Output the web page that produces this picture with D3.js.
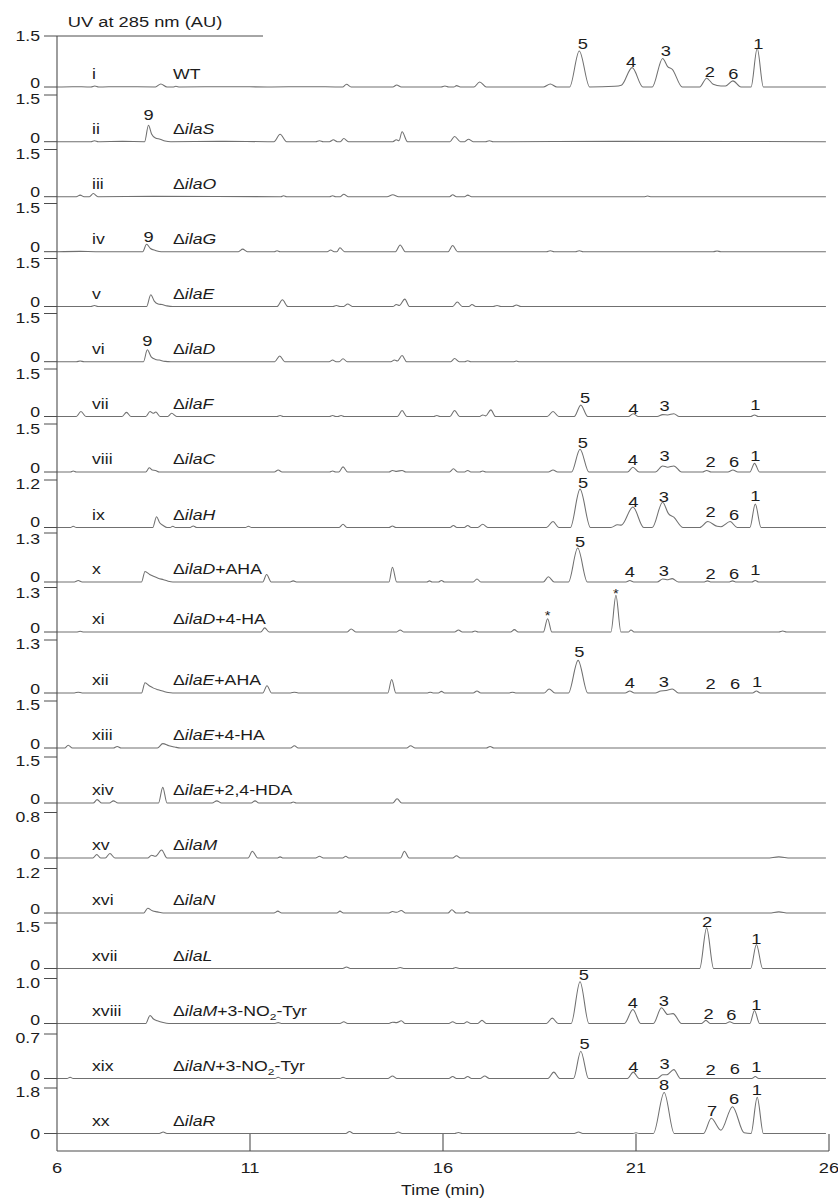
<!DOCTYPE html>
<html><head><meta charset="utf-8">
<script src="https://cdn.jsdelivr.net/npm/d3@7"></script>
<style>body{margin:0;background:#fff}svg{display:block}</style>
</head><body><svg id="c" width="838" height="1202"></svg>
<script>
// ---------------- DATA ----------------
const romans = ["i","ii","iii","iv","v","vi","vii","viii","ix","x","xi","xii","xiii","xiv","xv","xvi","xvii","xviii","xix","xx"];
const genes = ["WT","ilaS","ilaO","ilaG","ilaE","ilaD","ilaF","ilaC","ilaH","ilaD","ilaD","ilaE","ilaE","ilaE","ilaM","ilaN","ilaL","ilaM","ilaN","ilaR"];
const supplements = ["","","","","","","","","","+AHA","+4-HA","+AHA","+4-HA","+2,4-HDA","","","","+3-NO2-Tyr","+3-NO2-Tyr",""];
const yMax = [1.5,1.5,1.5,1.5,1.5,1.5,1.5,1.5,1.2,1.3,1.3,1.3,1.5,1.5,0.8,1.2,1.5,1.0,0.7,1.8];
const timeTicks = [6,11,16,21,26];

// traces: [time (min), absorbance (AU)]
const trace01 = [[6,0],[6.4,0.01],[6.88,0],[6.98,0.03],[7.08,0],[7.6,0.01],[8.55,0],[8.69,0.09],[8.85,0],[9.0,0],[9.08,0.02],[9.18,0],[10.5,0.01],[11.5,0],[12.5,0.01],[13.4,0],[13.5,0.08],[13.62,0],[14.7,0],[14.8,0.06],[14.92,0],[15.95,0],[16.05,0.03],[16.15,0],[16.28,0],[16.35,0.04],[16.45,0],[16.8,0],[16.95,0.15],[17.12,0],[18.6,0],[18.78,0.09],[18.95,0],[19.28,0],[19.53,1.06],[19.8,0],[20.45,0.02],[20.62,0.05],[20.9,0.57],[21.18,0],[21.42,0],[21.69,0.84],[21.82,0.6],[21.94,0.52],[22.2,0],[22.65,0],[22.83,0.26],[23.0,0.08],[23.2,0.03],[23.32,0.03],[23.51,0.18],[23.72,0],[23.98,0],[24.14,1.14],[24.3,0],[25.92,0]];
const trace02 = [[6,0],[6.88,0],[6.97,0.03],[7.07,0],[7.7,0.01],[8.27,0],[8.37,0.53],[8.45,0.25],[8.55,0.12],[8.67,0.08],[8.8,0.02],[8.95,0],[10.2,0.01],[11.62,0],[11.78,0.24],[11.95,0],[12.7,0],[12.8,0.03],[12.9,0],[13.06,0],[13.16,0.06],[13.26,0],[13.34,0],[13.43,0.1],[13.55,0],[14.7,0],[14.79,0.06],[14.86,0.03],[14.94,0.32],[15.08,0],[16.18,0],[16.3,0.17],[16.45,0],[16.56,0],[16.66,0.08],[16.78,0],[17.1,0],[17.2,0.03],[17.3,0],[20.5,0.01],[25.92,0]];
const trace03 = [[6,0],[6.5,0],[6.6,0.05],[6.7,0],[6.84,0],[6.94,0.1],[7.06,0],[8.5,0.01],[11.8,0],[11.87,0.03],[11.95,0],[13.06,0],[13.14,0.03],[13.22,0],[13.34,0],[13.43,0.08],[13.54,0],[14.55,0],[14.7,0.06],[14.85,0],[16.17,0],[16.25,0.06],[16.35,0],[16.56,0],[16.64,0.05],[16.74,0],[21.2,0],[21.3,0.02],[21.4,0],[25.92,0]];
const trace04 = [[6,0],[6.6,0.01],[7.0,0],[8.22,0],[8.32,0.23],[8.42,0.1],[8.55,0.04],[8.7,0],[10.7,0],[10.81,0.08],[10.93,0],[11.63,0],[11.7,0.03],[11.78,0],[13.0,0],[13.09,0.05],[13.18,0],[13.25,0],[13.33,0.12],[13.45,0],[14.77,0],[14.89,0.21],[15.02,0],[16.13,0],[16.25,0.19],[16.38,0],[18.68,0],[18.78,0.03],[18.88,0],[19.43,0],[19.53,0.03],[19.63,0],[23.0,0],[23.1,0.02],[23.2,0],[25.92,0]];
const trace05 = [[6,0],[6.88,0],[6.97,0.03],[7.06,0],[8.32,0],[8.43,0.37],[8.52,0.17],[8.62,0.08],[8.72,0.06],[8.85,0.02],[9.0,0],[11.7,0],[11.84,0.21],[11.98,0],[13.15,0],[13.24,0.03],[13.33,0],[13.43,0],[13.53,0.08],[13.65,0],[14.7,0],[14.79,0.06],[14.87,0.03],[15.01,0.23],[15.13,0],[16.25,0],[16.37,0.14],[16.5,0],[16.67,0],[16.75,0.06],[16.85,0],[17.3,0],[17.4,0.03],[17.5,0],[17.8,0],[17.9,0.05],[18.02,0],[25.92,0]];
const trace06 = [[6,0],[6.5,0],[6.6,0.02],[6.7,0],[8.24,0],[8.34,0.37],[8.44,0.15],[8.55,0.07],[8.65,0.05],[8.8,0.01],[8.95,0],[11.64,0],[11.77,0.18],[11.9,0],[13.05,0],[13.14,0.05],[13.23,0],[13.31,0],[13.41,0.09],[13.52,0],[14.65,0],[14.74,0.05],[14.82,0.02],[14.94,0.19],[15.06,0],[16.2,0],[16.3,0.1],[16.42,0],[16.56,0],[16.64,0.03],[16.72,0],[17.82,0],[17.9,0.02],[17.98,0],[25.92,0]];
const trace07 = [[6,0],[6.5,0],[6.62,0.16],[6.75,0],[7.68,0],[7.8,0.13],[7.92,0],[8.3,0],[8.41,0.16],[8.49,0.1],[8.56,0.14],[8.67,0],[8.87,0],[8.97,0.1],[9.1,0],[11.7,0],[11.78,0.03],[11.86,0],[13.06,0],[13.14,0.03],[13.22,0],[13.28,0],[13.36,0.03],[13.44,0],[14.82,0],[14.94,0.19],[15.06,0],[15.76,0],[15.84,0.03],[15.92,0],[16.18,0],[16.3,0.19],[16.43,0],[16.95,0],[17.03,0.05],[17.11,0.02],[17.24,0.21],[17.36,0],[18.7,0],[18.85,0.16],[19.0,0],[19.4,0],[19.57,0.36],[19.75,0],[20.8,0],[20.93,0.09],[21.06,0],[21.55,0],[21.69,0.06],[21.82,0.05],[21.98,0.09],[22.12,0],[23.97,0],[24.07,0.05],[24.17,0],[25.92,0]];
const trace08 = [[6,0],[6.35,0],[6.42,0.03],[6.5,0],[8.3,0],[8.39,0.13],[8.47,0.06],[8.55,0.05],[8.65,0],[11.63,0],[11.73,0.06],[11.83,0],[13.06,0],[13.14,0.03],[13.22,0],[13.3,0],[13.41,0.16],[13.53,0],[14.6,0],[14.69,0.05],[14.8,0.02],[14.94,0.05],[15.04,0],[16.17,0],[16.27,0.1],[16.38,0],[16.56,0],[16.64,0.05],[16.72,0],[16.95,0],[17.03,0.03],[17.11,0],[18.73,0],[18.85,0.06],[18.97,0],[19.33,0],[19.55,0.71],[19.78,0],[20.78,0],[20.92,0.15],[21.08,0],[21.5,0],[21.69,0.19],[21.82,0.15],[21.98,0.19],[22.18,0],[22.72,0],[22.83,0.05],[22.95,0],[23.38,0],[23.51,0.06],[23.64,0],[23.95,0],[24.07,0.27],[24.2,0],[25.92,0]];
const trace09 = [[6,0],[6.35,0],[6.42,0.03],[6.5,0],[8.48,0],[8.58,0.27],[8.66,0.12],[8.75,0.05],[8.85,0],[8.93,0],[9.0,0.03],[9.07,0],[9.45,0],[9.53,0.04],[9.62,0],[10.88,0],[10.96,0.03],[11.04,0],[13.31,0],[13.41,0.08],[13.51,0],[14.6,0],[14.69,0.04],[14.78,0],[16.18,0],[16.27,0.05],[16.36,0],[16.55,0],[16.64,0.05],[16.73,0],[16.9,0],[17.03,0.08],[17.16,0],[18.68,0],[18.85,0.15],[19.0,0],[19.3,0],[19.55,0.97],[19.82,0],[20.35,0],[20.52,0.07],[20.62,0.06],[20.92,0.52],[21.2,0],[21.42,0],[21.69,0.64],[21.84,0.35],[21.98,0.26],[22.22,0],[22.65,0],[22.86,0.15],[23.1,0.03],[23.2,0.02],[23.44,0.15],[23.62,0],[23.95,0],[24.09,0.59],[24.24,0],[25.92,0]];
const trace10 = [[6,0],[6.45,0],[6.55,0.04],[6.65,0],[8.19,0],[8.28,0.28],[8.4,0.2],[8.5,0.15],[8.62,0.1],[8.76,0.06],[8.88,0.02],[9.0,0],[11.33,0],[11.43,0.2],[11.55,0],[12.02,0],[12.12,0.03],[12.22,0],[14.6,0],[14.69,0.39],[14.8,0],[15.58,0],[15.65,0.03],[15.72,0],[15.88,0],[15.96,0.04],[16.04,0],[16.78,0],[16.88,0.08],[16.98,0],[18.6,0],[18.73,0.14],[18.88,0],[19.25,0],[19.49,0.9],[19.74,0],[20.74,0],[20.84,0.04],[20.94,0],[21.55,0],[21.69,0.08],[21.8,0.06],[21.94,0.09],[22.1,0],[22.75,0],[22.85,0.03],[22.95,0],[23.4,0],[23.5,0.03],[23.6,0],[24.0,0],[24.09,0.04],[24.18,0],[25.92,0]];
const trace11 = [[6,0],[6.5,0],[6.6,0.02],[6.7,0],[11.28,0],[11.38,0.12],[11.5,0],[13.52,0],[13.62,0.09],[13.74,0],[14.8,0],[14.89,0.06],[14.98,0],[16.3,0],[16.4,0.06],[16.5,0],[16.75,0],[16.83,0.03],[16.91,0],[17.75,0],[17.85,0.07],[17.95,0],[18.6,0],[18.71,0.39],[18.82,0],[20.35,0],[20.48,1.07],[20.61,0],[20.8,0],[20.87,0.06],[20.95,0],[24.7,0],[24.8,0.03],[24.9,0],[25.92,0]];
const trace12 = [[6,0],[6.45,0],[6.55,0.02],[6.65,0],[8.19,0],[8.28,0.25],[8.4,0.17],[8.5,0.12],[8.62,0.08],[8.76,0.04],[8.88,0.01],[9.0,0],[11.33,0],[11.44,0.18],[11.56,0],[12.05,0],[12.15,0.02],[12.25,0],[14.57,0],[14.67,0.33],[14.78,0],[15.6,0],[15.67,0.02],[15.74,0],[15.88,0],[15.96,0.04],[16.04,0],[16.78,0],[16.88,0.05],[16.98,0],[17.72,0],[17.8,0.02],[17.88,0],[18.62,0],[18.75,0.1],[18.9,0],[19.25,0],[19.5,0.8],[19.75,0],[20.72,0],[20.84,0.05],[20.96,0],[21.5,0],[21.64,0.05],[21.78,0.06],[21.94,0.1],[22.1,0],[24.02,0],[24.12,0.05],[24.22,0],[25.92,0]];
const trace13 = [[6,0],[6.2,0],[6.29,0.09],[6.4,0],[7.46,0],[7.56,0.05],[7.66,0],[8.6,0],[8.74,0.14],[8.9,0.07],[9.05,0.03],[9.2,0],[12.05,0],[12.15,0.07],[12.25,0],[15.06,0],[15.16,0.07],[15.28,0],[17.12,0],[17.22,0.05],[17.32,0],[25.92,0]];
const trace14 = [[6,0],[6.94,0],[7.04,0.11],[7.16,0],[7.36,0],[7.46,0.07],[7.58,0],[8.63,0],[8.74,0.51],[8.85,0],[10.02,0],[10.14,0.07],[10.26,0],[11.03,0],[11.13,0.07],[11.23,0],[12.05,0],[12.12,0.03],[12.2,0],[14.7,0],[14.81,0.14],[14.93,0],[25.92,0]];
const trace15 = [[6,0],[6.93,0],[7.03,0.06],[7.13,0],[7.25,0],[7.37,0.08],[7.5,0],[8.35,0],[8.45,0.05],[8.55,0.03],[8.71,0.14],[8.85,0],[10.95,0],[11.06,0.12],[11.2,0],[11.7,0],[11.78,0.02],[11.86,0],[12.7,0],[12.8,0.03],[12.9,0],[13.4,0],[13.48,0.03],[13.56,0],[14.9,0],[15.0,0.12],[15.12,0],[16.25,0],[16.35,0.04],[16.45,0],[24.4,0],[24.7,0.02],[25.0,0],[25.92,0]];
const trace16 = [[6,0],[8.25,0],[8.35,0.13],[8.47,0.06],[8.6,0.03],[8.75,0],[11.62,0],[11.72,0.05],[11.82,0],[13.25,0],[13.33,0.05],[13.42,0],[14.6,0],[14.69,0.04],[14.8,0.02],[14.92,0.07],[15.02,0],[16.13,0],[16.23,0.09],[16.34,0],[16.54,0],[16.62,0.04],[16.7,0],[24.45,0],[24.7,0.03],[24.95,0],[25.92,0]];
const trace17 = [[6,0],[13.4,0],[13.5,0.05],[13.6,0],[14.8,0],[14.89,0.03],[14.98,0],[16.25,0],[16.33,0.03],[16.42,0],[22.65,0],[22.83,1.34],[23.01,0],[23.97,0],[24.12,0.79],[24.28,0],[25.92,0]];
const trace18 = [[6,0],[8.3,0],[8.41,0.18],[8.5,0.1],[8.6,0.06],[8.75,0.02],[8.9,0],[11.65,0],[11.73,0.02],[11.81,0],[13.33,0],[13.43,0.04],[13.53,0],[14.6,0],[14.69,0.03],[14.8,0.02],[14.92,0.06],[15.02,0],[16.15,0],[16.25,0.04],[16.35,0],[16.54,0],[16.62,0.04],[16.72,0],[16.9,0],[17.01,0.07],[17.12,0],[18.68,0],[18.83,0.12],[18.98,0],[19.32,0],[19.55,0.93],[19.78,0],[20.7,0],[20.92,0.31],[21.12,0],[21.45,0],[21.66,0.35],[21.82,0.2],[21.96,0.22],[22.18,0],[22.7,0],[22.81,0.07],[22.92,0],[23.32,0],[23.43,0.04],[23.54,0],[23.95,0],[24.07,0.29],[24.2,0],[25.92,0]];
const trace19 = [[6,0],[6.26,0],[6.34,0.02],[6.42,0],[11.65,0],[11.73,0.02],[11.81,0],[13.33,0],[13.41,0.02],[13.5,0],[14.58,0],[14.69,0.04],[14.8,0],[16.15,0],[16.25,0.03],[16.35,0],[16.54,0],[16.64,0.03],[16.74,0],[16.97,0],[17.08,0.04],[17.2,0],[18.72,0],[18.87,0.1],[19.02,0],[19.38,0],[19.57,0.43],[19.77,0],[20.78,0],[20.93,0.1],[21.08,0],[21.55,0],[21.69,0.06],[21.8,0.06],[21.98,0.14],[22.15,0],[24.0,0],[24.09,0.03],[24.18,0],[25.92,0]];
const trace20 = [[6,0],[8.65,0],[8.75,0.06],[8.85,0],[13.48,0],[13.58,0.08],[13.68,0],[14.74,0],[14.84,0.06],[14.94,0],[16.3,0],[16.4,0.04],[16.5,0],[19.4,0],[19.51,0.06],[19.62,0],[20.92,0],[21.0,0.03],[21.08,0],[21.45,0],[21.73,1.62],[21.99,0],[22.75,0],[22.95,0.6],[23.2,0.13],[23.5,1.06],[23.8,0.03],[23.98,0],[24.14,1.43],[24.3,0],[25.92,0]];
const traces = [trace01,trace02,trace03,trace04,trace05,trace06,trace07,trace08,trace09,trace10,trace11,trace12,trace13,trace14,trace15,trace16,trace17,trace18,trace19,trace20];

// peak labels: [panel index, label, time, level (AU)]
const peakLabels = [
 [0,"5",19.62,1.28],[0,"4",20.87,0.74],[0,"3",21.77,1.07],[0,"2",22.91,0.45],[0,"6",23.52,0.40],[0,"1",24.17,1.28],
 [1,"9",8.37,0.88],[3,"9",8.37,0.47],[5,"9",8.34,0.65],
 [6,"5",19.68,0.59],[6,"4",20.93,0.26],[6,"3",21.74,0.33],[6,"1",24.09,0.39],
 [7,"5",19.62,0.93],[7,"4",20.92,0.40],[7,"3",21.74,0.50],[7,"2",22.93,0.34],[7,"6",23.54,0.34],[7,"1",24.09,0.50],
 [8,"5",19.63,1.13],[8,"4",20.93,0.65],[8,"3",21.72,0.78],[8,"2",22.93,0.40],[8,"6",23.54,0.33],[8,"1",24.09,0.80],
 [9,"5",19.55,1.07],[9,"4",20.84,0.27],[9,"3",21.72,0.30],[9,"2",22.93,0.23],[9,"6",23.54,0.23],[9,"1",24.09,0.32],
 [10,"*",18.71,0.55],[10,"*",20.48,1.2],
 [11,"5",19.53,1.01],[11,"4",20.84,0.25],[11,"3",21.72,0.28],[11,"2",22.93,0.22],[11,"6",23.57,0.22],[11,"1",24.14,0.28],
 [16,"2",22.84,1.54],[16,"1",24.12,1.0],
 [17,"5",19.65,1.08],[17,"4",20.92,0.46],[17,"3",21.72,0.52],[17,"2",22.88,0.21],[17,"6",23.47,0.19],[17,"1",24.12,0.43],
 [18,"5",19.67,0.55],[18,"4",20.93,0.19],[18,"3",21.74,0.23],[18,"2",22.93,0.14],[18,"6",23.56,0.16],[18,"1",24.12,0.19],
 [19,"8",21.73,1.95],[19,"7",22.97,0.9],[19,"6",23.54,1.37],[19,"1",24.13,1.75]
];

// ---------------- LAYOUT ----------------
const baseY = [87,141.7,196.7,251.7,306.5,361.7,416.5,472,527.5,582,632,693,748,803,858,913,968.5,1023.5,1078.5,1133.5];
const topY  = [36,95,149.5,203.5,258.5,313.5,369,424,480,533,587.5,640,701,757,812.5,868.5,923,978.5,1034,1088];
const axisX = 57, tickX0 = 44, axisBottom = 1151;
const SX = 1.22;            // horizontal stretch of lettering in the original figure
const FONT = "'Liberation Sans', Arial, Helvetica, sans-serif";
const TRACE = "#707070", AXIS = "#4d4d4d", INK = "#1c1c1c";
const TICKFS = 14.5;

const svg = d3.select("#c");
const x = d3.scaleLinear().domain([6,26]).range([axisX, 829]);

function label(x0, y0, anchor, size, parts, dy) {
  const t = svg.append("text")
    .attr("transform", `translate(${x0},${y0}) scale(${SX},1)`)
    .attr("text-anchor", anchor).attr("dy", dy || 0)
    .style("font-family", FONT).style("font-size", size + "px").style("fill", INK);
  parts.forEach(p => {
    const s = t.append("tspan").text(p.t);
    if (p.i) s.style("font-style", "italic");
    if (p.sub) s.attr("dy", 4).style("font-size", (size * 0.68) + "px");
    if (p.after) s.attr("dy", -4);
  });
  return t;
}

// panels
traces.forEach((tr, k) => {
  const y = d3.scaleLinear().domain([0, yMax[k]]).range([baseY[k], topY[k]]);
  const line = d3.line().x(d => x(d[0])).y(d => y(d[1])).curve(d3.curveMonotoneX);
  svg.append("path").datum(tr).attr("d", line)
    .attr("fill", "none").attr("stroke", TRACE).attr("stroke-width", 1.05).attr("stroke-linejoin", "round");

  // y ticks (0 and max)
  svg.append("line").attr("x1", tickX0).attr("x2", axisX).attr("y1", y(0)).attr("y2", y(0))
    .attr("stroke", AXIS).attr("stroke-width", 1);
  svg.append("line").attr("x1", tickX0).attr("x2", k === 0 ? 263 : axisX).attr("y1", y(yMax[k])).attr("y2", y(yMax[k]))
    .attr("stroke", AXIS).attr("stroke-width", 1);
  // offsets so that a "0" label and the next panel's max label do not collide
  const gapBelow = k < traces.length - 1 ? topY[k + 1] - baseY[k] : 99;
  const gapAbove = k > 0 ? topY[k] - baseY[k - 1] : 99;
  const offBelow = Math.max(4, (16.2 - gapBelow) / 2);
  const offAbove = Math.max(4, (16.2 - gapAbove) / 2);
  const zeroC = k === traces.length - 1 ? y(0) : y(0) - offBelow;
  const maxC = k === 0 ? y(yMax[k]) : y(yMax[k]) + offAbove;
  label(40, zeroC, "end", TICKFS, [{t: "0"}], "0.36em");
  label(40, maxC, "end", TICKFS, [{t: d3.format(".1f")(yMax[k])}], "0.36em");

  // trace labels
  label(92, baseY[k] - 8, "start", 14.5, [{t: romans[k]}]);
  let parts;
  if (genes[k] === "WT") parts = [{t: "WT"}];
  else {
    parts = [{t: "\u0394"}, {t: genes[k], i: true}];
    const s = supplements[k];
    if (s.includes("NO2")) {
      const [a, b] = s.split("NO2");
      parts.push({t: a + "NO"}, {t: "2", sub: true}, {t: b, after: true});
    } else if (s) parts.push({t: s});
  }
  label(173, baseY[k] - 8, "start", 14.5, parts);
});

// peak labels
peakLabels.forEach(([k, s, t, lv]) => {
  const y = d3.scaleLinear().domain([0, yMax[k]]).range([baseY[k], topY[k]]);
  if (s === "*") label(x(t), y(lv), "middle", 12, [{t: s}], "0.58em");
  else label(x(t), y(lv), "middle", 15, [{t: s}], "0.36em");
});

// axes
svg.append("line").attr("x1", axisX).attr("x2", axisX).attr("y1", topY[0]).attr("y2", axisBottom)
  .attr("stroke", AXIS).attr("stroke-width", 1.1);
svg.append("line").attr("x1", axisX).attr("x2", x(26)).attr("y1", axisBottom).attr("y2", axisBottom)
  .attr("stroke", AXIS).attr("stroke-width", 1.1);
timeTicks.forEach(v => {
  if (v !== 6) svg.append("line").attr("x1", x(v)).attr("x2", x(v)).attr("y1", axisBottom).attr("y2", 1134)
    .attr("stroke", AXIS).attr("stroke-width", 1.1);
  label(x(v), 1168, "middle", 15, [{t: String(v)}], "0.36em");
});
label(443, 1195, "middle", 14.5, [{t: "Time (min)"}]);
label(145, 27, "middle", 15, [{t: "UV at 285 nm (AU)"}]);
</script></body></html>
